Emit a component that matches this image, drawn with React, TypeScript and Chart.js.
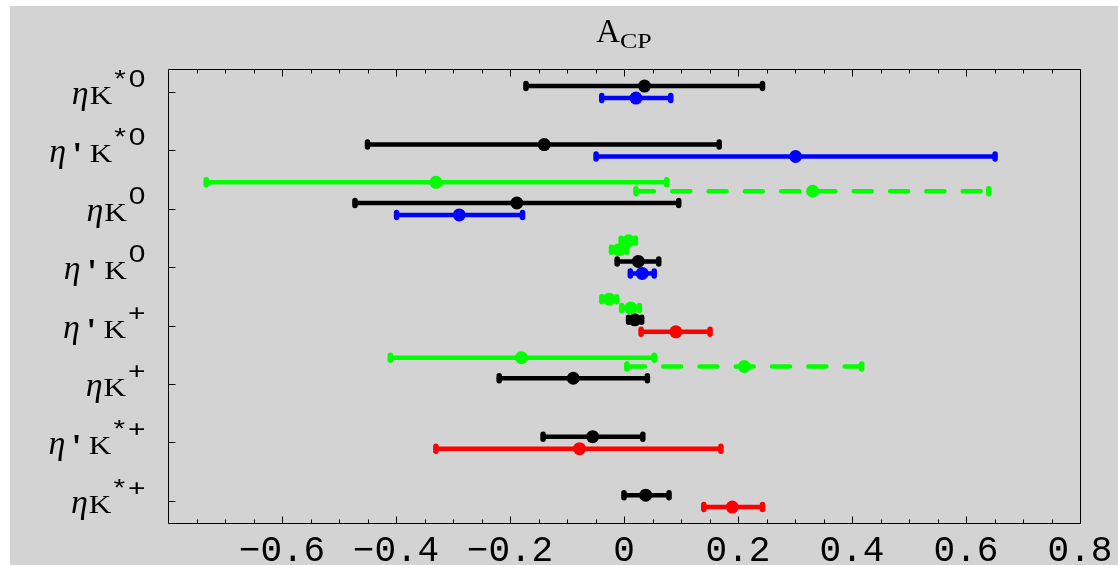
import React, { useEffect, useRef } from 'react';
import { Chart, registerables } from 'chart.js';
Chart.register(...registerables);

// Categories (top to bottom): base text and superscript
const catBase = ["ηK", "η'K", "ηK", "η'K", "η'K", "ηK", "η'K", "ηK"];
const catSup = ["*0", "*0", "0", "0", "+", "+", "*+", "*+"];
const catPos = [8, 7, 6, 5, 4, 3, 2, 1];

const xTicks = [-0.8, -0.6, -0.4, -0.2, 0, 0.2, 0.4, 0.6, 0.8];
const xTickLabels = ["", "−0.6", "−0.4", "−0.2", "0", "0.2", "0.4", "0.6", "0.8"];

const titleMain = "A";
const titleSub = "CP";

// Series: central value, lower and upper ends of the error bar
const greenSolidC = [null, null, -0.330, 0.008, -0.026, -0.180, null, null];
const greenSolidLo = [null, null, -0.733, -0.005, -0.039, -0.410, null, null];
const greenSolidHi = [null, null, 0.075, 0.020, -0.013, 0.053, null, null];

const greenDashC = [null, null, 0.331, -0.009, 0.012, 0.211, null, null];
const greenDashLo = [null, null, 0.021, -0.022, -0.004, 0.005, null, null];
const greenDashHi = [null, null, 0.640, 0.005, 0.027, 0.417, null, null];

const blackC = [0.036, -0.140, -0.188, 0.025, 0.019, -0.089, -0.055, 0.038];
const blackLo = [-0.172, -0.450, -0.472, -0.012, 0.008, -0.219, -0.142, 0.000];
const blackHi = [0.243, 0.167, 0.096, 0.061, 0.031, 0.041, 0.033, 0.079];

const blueC = [0.021, 0.301, -0.289, 0.032, null, null, null, null];
const blueLo = [-0.039, -0.049, -0.399, 0.011, null, null, null, null];
const blueHi = [0.082, 0.651, -0.178, 0.053, null, null, null, null];

const redC = [null, null, null, null, 0.091, null, -0.078, 0.190];
const redLo = [null, null, null, null, 0.030, null, -0.330, 0.140];
const redHi = [null, null, null, null, 0.151, null, 0.170, 0.243];

type Series = { c: (number | null)[]; lo: (number | null)[]; hi: (number | null)[]; color: string; off: number; dashed: boolean };

const series: Series[] = [
  { c: greenSolidC, lo: greenSolidLo, hi: greenSolidHi, color: '#00ff00', off: 0.45, dashed: false },
  { c: greenDashC, lo: greenDashLo, hi: greenDashHi, color: '#00ff00', off: 0.298, dashed: true },
  { c: blackC, lo: blackLo, hi: blackHi, color: '#000000', off: 0.097, dashed: false },
  { c: blueC, lo: blueLo, hi: blueHi, color: '#0000ff', off: -0.108, dashed: false },
  { c: redC, lo: redLo, hi: redHi, color: '#ff0000', off: -0.108, dashed: false },
];

const BG = '#d3d3d3';
const MONO = "'Liberation Mono', monospace";
const SERIF = "'Liberation Serif', serif";
const SANS = "'Liberation Sans', sans-serif";

function drawScaled(ctx: CanvasRenderingContext2D, text: string, x: number, y: number, font: string, sx: number) {
  ctx.save();
  ctx.font = font;
  ctx.translate(x, y);
  ctx.scale(sx, 1);
  ctx.textAlign = 'left';
  ctx.textBaseline = 'alphabetic';
  ctx.fillText(text, 0, 0);
  ctx.restore();
}
function measureScaled(ctx: CanvasRenderingContext2D, text: string, font: string, sx: number) {
  ctx.save();
  ctx.font = font;
  const w = ctx.measureText(text).width * sx;
  ctx.restore();
  return w;
}

const plugin = {
  id: 'acpPlot',
  beforeDraw(chart: any) {
    const ctx = chart.ctx as CanvasRenderingContext2D;
    ctx.save();
    ctx.fillStyle = BG;
    ctx.fillRect(0, 0, chart.width, chart.height);
    ctx.restore();
  },
  beforeDatasetsDraw(chart: any) {
    const ctx = chart.ctx as CanvasRenderingContext2D;
    const x = chart.scales.x;
    const y = chart.scales.y;
    series.forEach((s) => {
      s.c.forEach((c, i) => {
        if (c == null) return;
        const yy = y.getPixelForValue(catPos[i] + s.off);
        const x1 = x.getPixelForValue(s.lo[i] as number);
        const x2 = x.getPixelForValue(s.hi[i] as number);
        ctx.save();
        ctx.strokeStyle = s.color;
        ctx.lineCap = 'round';
        ctx.lineWidth = 4.5;
        ctx.setLineDash(s.dashed ? [18, 18.3] : []);
        ctx.beginPath();
        ctx.moveTo(x1, yy);
        ctx.lineTo(x2, yy);
        ctx.stroke();
        ctx.setLineDash([]);
        ctx.lineWidth = 5.5;
        ctx.beginPath();
        ctx.moveTo(x1, yy - 2.5);
        ctx.lineTo(x1, yy + 2.5);
        ctx.moveTo(x2, yy - 2.5);
        ctx.lineTo(x2, yy + 2.5);
        ctx.stroke();
        ctx.restore();
      });
    });
  },
  afterDraw(chart: any) {
    const ctx = chart.ctx as CanvasRenderingContext2D;
    const x = chart.scales.x;
    const y = chart.scales.y;
    const a = chart.chartArea;
    const L = Math.round(a.left) + 0.5;
    const R = Math.round(a.right) + 0.5;
    const T = Math.round(a.top) + 0.5;
    const B = Math.round(a.bottom) + 0.5;
    ctx.save();
    ctx.strokeStyle = '#000';
    ctx.lineWidth = 1;
    ctx.beginPath();
    ctx.rect(L, T, R - L, B - T);
    ctx.stroke();
    // x ticks (top and bottom, inward)
    ctx.beginPath();
    for (let k = -16; k <= 16; k++) {
      const v = k * 0.05;
      const px = Math.round(x.getPixelForValue(v)) + 0.5;
      const len = k % 4 === 0 ? 7 : 4;
      ctx.moveTo(px, B);
      ctx.lineTo(px, B - len);
      ctx.moveTo(px, T);
      ctx.lineTo(px, T + len);
    }
    // y ticks (left, inward)
    catPos.forEach((p) => {
      const py = Math.round(y.getPixelForValue(p)) + 0.5;
      ctx.moveTo(L, py);
      ctx.lineTo(L + 7, py);
    });
    ctx.stroke();

    ctx.fillStyle = '#000';
    // x tick labels
    ctx.font = `36px ${MONO}`;
    ctx.textAlign = 'center';
    ctx.textBaseline = 'alphabetic';
    xTicks.forEach((v, i) => {
      const t = xTickLabels[i];
      if (!t) return;
      ctx.fillText(t, x.getPixelForValue(v), B + 37);
    });

    // y labels
    const etaFont = `italic 34px ${SERIF}`;
    const aposFont = `26px ${MONO}`;
    const kFont = `26px ${SERIF}`;
    const supFont = `23px ${SANS}`;
    const kSx = 1.2;
    const sSx = 1.3;
    catBase.forEach((base, i) => {
      const eta = base.charAt(0);
      const hasApos = base.indexOf("'") >= 0;
      const apos = hasApos ? "'" : "";
      const k = base.slice(hasApos ? 2 : 1);
      const sup = catSup[i];
      const wEta = measureScaled(ctx, eta, etaFont, 1);
      const wApos = hasApos ? measureScaled(ctx, apos, aposFont, 1.45) : 0;
      const wK = measureScaled(ctx, k, kFont, kSx);
      const supParts = sup.split('');
      const supGap = 3;
      const wSup = supParts.reduce((acc, ch) => acc + measureScaled(ctx, ch, supFont, sSx) + supGap, 0);
      const right = L - 22;
      let cx = right - (wEta + wApos + wK + wSup) - 1;
      const py = y.getPixelForValue(catPos[i]);
      drawScaled(ctx, eta, cx, py + 12, etaFont, 1);
      cx += wEta;
      if (hasApos) {
        drawScaled(ctx, apos, cx, py + 12, aposFont, 1.45);
        cx += wApos;
      }
      drawScaled(ctx, k, cx + 1, py + 12, kFont, kSx);
      cx += wK + 3;
      supParts.forEach((ch) => {
        drawScaled(ctx, ch, cx, py - 5, supFont, sSx);
        cx += measureScaled(ctx, ch, supFont, sSx) + supGap;
      });
    });

    // title
    const tFont = `33px ${SERIF}`;
    const tSubFont = `20px ${SERIF}`;
    const wA = measureScaled(ctx, titleMain, tFont, 1.0);
    const wS = measureScaled(ctx, titleSub, tSubFont, 1.3);
    const cxT = (a.left + a.right) / 2;
    let tx = cxT - (wA + wS) / 2;
    drawScaled(ctx, titleMain, tx, 36, tFont, 1.0);
    tx += wA;
    drawScaled(ctx, titleSub, tx, 42, tSubFont, 1.3);
    ctx.restore();
  },
};

export default function App() {
  const ref = useRef<HTMLCanvasElement | null>(null);
  useEffect(() => {
    document.body.style.margin = '0';
    const canvas = ref.current;
    if (!canvas) return;
    const datasets = series.map((s) => ({
      label: s.color,
      data: s.c
        .map((c, i) => (c == null ? null : { x: c, y: catPos[i] + s.off }))
        .filter((d) => d !== null),
      backgroundColor: s.color,
      borderColor: s.color,
      borderWidth: 0,
      pointRadius: 6.5,
      pointHoverRadius: 6.5,
      showLine: false,
    }));
    const chart = new Chart(canvas, {
      type: 'scatter',
      data: { datasets: datasets as any },
      options: {
        animation: false,
        responsive: false,
        maintainAspectRatio: false,
        devicePixelRatio: 1,
        events: [],
        layout: { padding: { left: 158, right: 38, top: 63, bottom: 42 } },
        plugins: { legend: { display: false }, tooltip: { enabled: false }, title: { display: false } },
        scales: {
          x: { type: 'linear', min: -0.8, max: 0.8, display: false },
          y: { type: 'linear', min: 0.62, max: 8.39, display: false },
        },
      },
      plugins: [plugin],
    });
    return () => chart.destroy();
  }, []);
  return (
    <div style={{ position: 'fixed', left: 0, top: 0, width: 1118, height: 565, background: '#ffffff', overflow: 'hidden' }}>
      <canvas ref={ref} width={1108} height={559} style={{ position: 'absolute', left: 10, top: 6, width: 1108, height: 559 }} />
    </div>
  );
}
